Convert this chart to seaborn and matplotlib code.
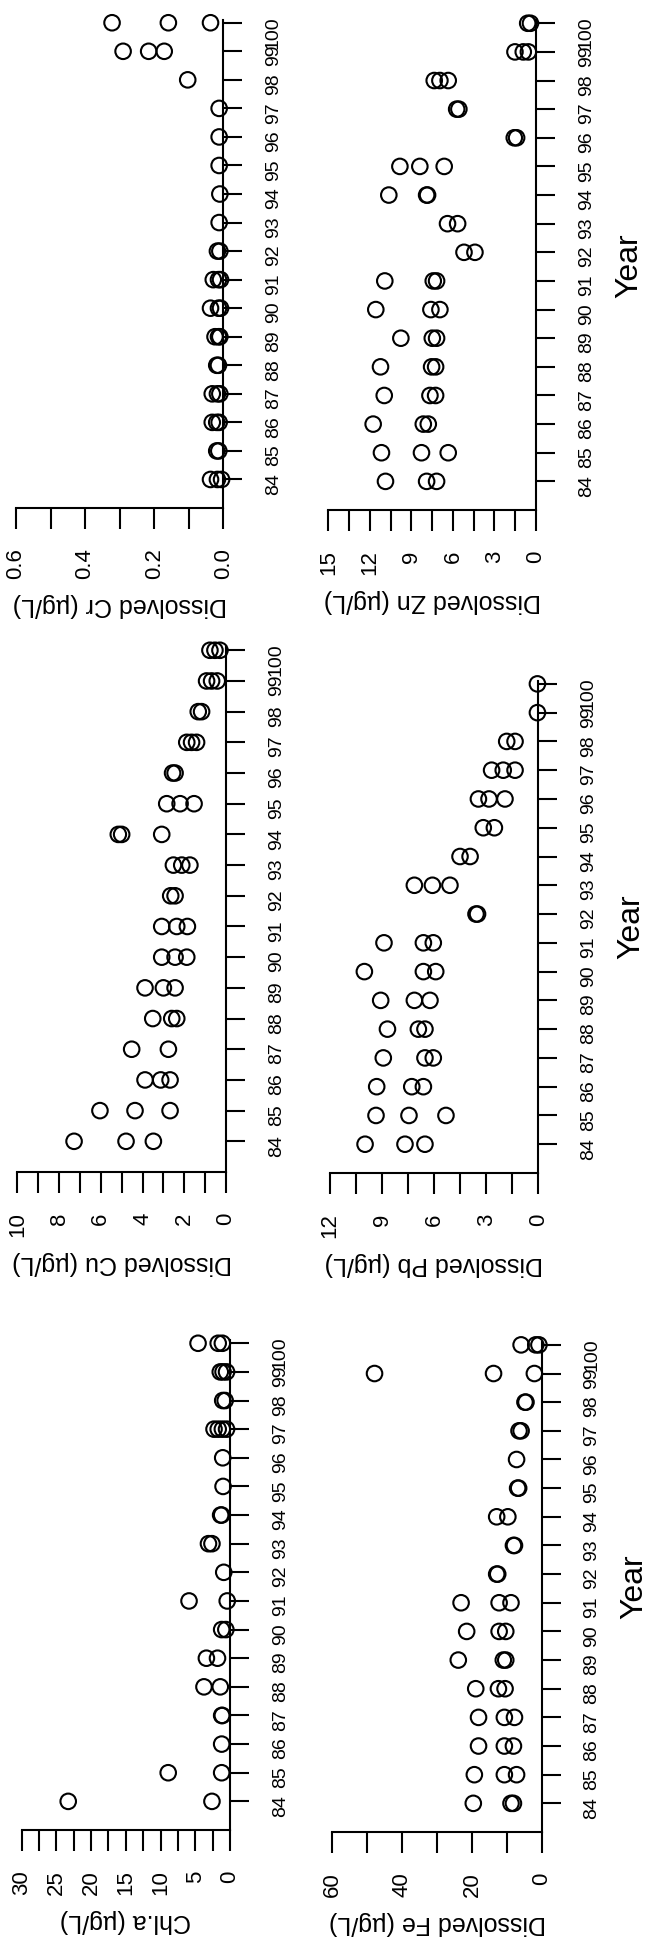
import matplotlib
matplotlib.use('Agg')
import matplotlib.pyplot as plt
import seaborn as sns
import pandas as pd

# Years on the x axis of the original (landscape) figure
YEARS = list(range(84, 101))
YEAR_LABELS = [str(y) for y in YEARS]

# values per year (one inner list per year, 84..100)
CHLA = [[23.3, 2.6], [8.9, 1.2], [1.2], [1.2, 1.1], [3.75, 1.4], [3.4, 1.8],
        [1.2, 0.6], [5.9, 0.4], [0.9], [3.1, 2.6], [1.35, 1.2], [1.0], [1.05],
        [2.3, 1.7, 1.1, 0.5], [1.05, 0.7], [1.4, 1.0, 0.5], [4.6, 1.7, 1.1]]
FE = [[19.6, 8.8, 8.1], [19.3, 10.7, 7.2], [18.1, 10.7, 8.1], [18.1, 10.7, 7.8],
      [18.9, 12.4, 10.5], [23.9, 11.0, 10.3], [21.5, 12.2, 10.3], [23.1, 12.2, 8.8],
      [12.9, 12.6], [8.1, 7.8], [12.9, 9.7], [6.9, 6.6], [7.2], [6.5, 5.9],
      [4.8, 4.5], [47.9, 13.8, 2.1], [5.9, 1.7, 0.8]]
CU = [[7.28, 4.79, 3.48], [6.04, 4.36, 2.68], [3.88, 3.13, 2.68], [4.52, 2.76],
      [3.51, 2.6, 2.36], [3.88, 3.0, 2.44], [3.08, 2.44, 1.88], [3.08, 2.36, 1.85],
      [2.65, 2.44], [2.52, 2.12, 1.73], [5.16, 5.0, 3.08], [2.84, 2.2, 1.53],
      [2.56, 2.44], [1.88, 1.65, 1.41], [1.33, 1.17], [0.93, 0.69, 0.42],
      [0.77, 0.53, 0.29]]
PB = [[9.98, 7.68, 6.53], [9.35, 7.45, 5.32], [9.31, 7.29, 6.62], [8.93, 6.53, 6.05],
      [8.69, 6.91, 6.53], [9.08, 7.14, 6.24], [10.02, 6.62, 5.91], [8.89, 6.62, 6.05],
      [3.59, 3.5], [7.14, 6.1, 5.09], [4.51, 3.93], [3.17, 2.53], [3.45, 2.84, 1.92],
      [2.69, 2.02, 1.34], [1.82, 1.34], [0.05], [0.05]]
CR = [[0.037, 0.017, 0.005], [0.019, 0.013], [0.032, 0.019, 0.012], [0.032, 0.017, 0.010],
      [0.019, 0.014], [0.024, 0.014, 0.010], [0.037, 0.014, 0.008], [0.029, 0.014, 0.008],
      [0.017, 0.010], [0.012], [0.010], [0.012], [0.012], [0.012], [0.103],
      [0.290, 0.216, 0.171], [0.322, 0.159, 0.037]]
ZN = [[10.87, 7.9, 7.18], [11.16, 8.27, 6.34], [11.76, 8.14, 7.78], [10.96, 7.66, 7.25],
      [11.23, 7.54, 7.25], [9.76, 7.49, 7.18], [11.57, 7.59, 6.94], [10.92, 7.42, 7.18],
      [5.2, 4.41], [6.39, 5.66], [10.63, 7.9, 7.83], [9.83, 8.39, 6.63], [1.57, 1.4],
      [5.73, 5.57], [7.35, 6.94, 6.34], [1.52, 0.92, 0.55], [0.6, 0.4]]

LABELS = ['Chl.a (µg/L)', 'Dissolved Fe (µg/L)', 'Dissolved Cu (µg/L)',
          'Dissolved Pb (µg/L)', 'Dissolved Cr (µg/L)', 'Dissolved Zn (µg/L)']

W, H = 651, 1952

plt.rcParams['font.family'] = ['Liberation Sans', 'DejaVu Sans']


def to_frame(values):
    years = [y for y, vs in zip(YEARS, values) for _ in vs]
    vals = [v for vs in values for v in vs]
    return pd.DataFrame({'Year': years, 'Value': vals})


def draw_panel(fig, box, values, label, vmax, major, minor, fmt, year_label):
    # box in pixels: left, right, top, bottom (figure is the scan turned on its side)
    x0, x1, top, bot = box
    ax = fig.add_axes([x0 / W, 1 - bot / H, (x1 - x0) / W, (bot - top) / H])
    df = to_frame(values)
    sns.scatterplot(data=df, x='Value', y='Year', ax=ax, marker='o', s=125,
                    facecolor='none', edgecolor='black', linewidth=1.5,
                    clip_on=False, zorder=3)
    ax.collections[-1].set_facecolor('none')

    ax.set_xlim(vmax, 0)
    ax.set_ylim(83, 100.1)
    for side in ['top', 'left']:
        ax.spines[side].set_visible(False)
    for side in ['bottom', 'right']:
        ax.spines[side].set_linewidth(1.5)

    ticks = [i * major for i in range(int(round(vmax / major)) + 1)]
    minors = [i * minor for i in range(int(round(vmax / minor)) + 1)]
    ax.set_xticks(minors, minor=True)
    ax.set_xticks(ticks)
    ax.set_xticklabels([fmt.format(t) for t in ticks])
    ax.tick_params(axis='x', which='both', direction='out', length=15, width=1.5,
                   labelsize=16, labelrotation=90, pad=14)

    ax.yaxis.tick_right()
    ax.set_yticks(YEARS)
    ax.set_yticklabels(YEAR_LABELS)
    ax.tick_params(axis='y', direction='out', length=14, width=1.5,
                   labelsize=14, labelrotation=90, pad=16)

    ax.set_xlabel(label, fontsize=18, rotation=180, labelpad=10)
    if year_label:
        ax.yaxis.set_label_position('right')
        ax.set_ylabel('Year', fontsize=23, rotation=90, labelpad=14)
    else:
        ax.set_ylabel('')
    return ax


fig = plt.figure(figsize=(W / 100, H / 100), dpi=100)
fig.patch.set_facecolor('white')

draw_panel(fig, (21.7, 230, 1340.4, 1830), CHLA, LABELS[0], 30, 5, 2.5, '{:.0f}', False)
draw_panel(fig, (332.3, 541.7, 1342, 1832), FE, LABELS[1], 60, 20, 10, '{:.0f}', True)
draw_panel(fig, (17.3, 226, 647.2, 1172), CU, LABELS[2], 10, 2, 1, '{:.0f}', False)
draw_panel(fig, (330, 538.3, 681, 1173), PB, LABELS[3], 12, 3, 1.5, '{:.0f}', True)
draw_panel(fig, (16, 223.3, 19.9, 508), CR, LABELS[4], 0.6, 0.2, 0.1, '{:.1f}', False)
draw_panel(fig, (328.3, 536, 20.4, 510), ZN, LABELS[5], 15, 3, 1.5, '{:.0f}', True)

fig.savefig('out.png', dpi=100, facecolor='white')
